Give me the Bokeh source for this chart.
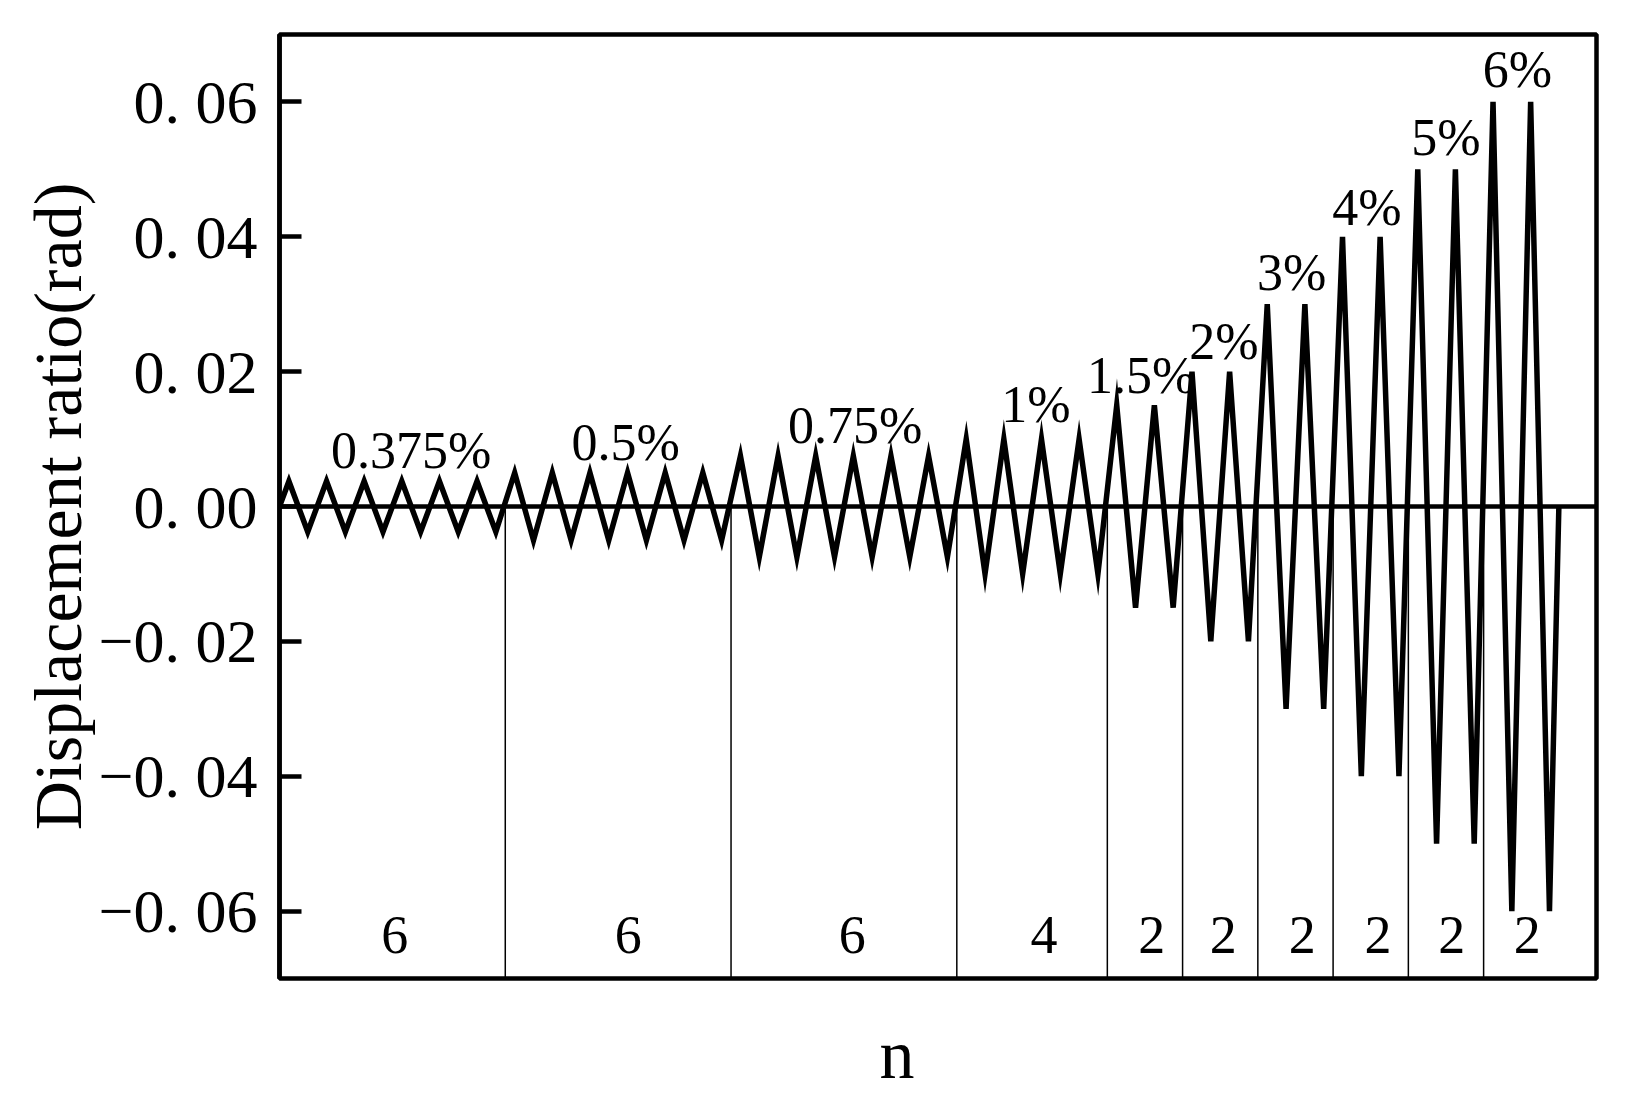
from bokeh.plotting import figure
from bokeh.models import Range1d, FixedTicker, Title
from bokeh.embed import file_html
from bokeh.resources import INLINE
from bokeh.core.properties import value

# ---- data ----
levels = ["0.375%", "0.5%", "0.75%", "1%", "1.5%", "2%", "3%", "4%", "5%", "6%"]
amplitudes = [0.00375, 0.005, 0.0075, 0.01, 0.015, 0.02, 0.03, 0.04, 0.05, 0.06]
cycles = [6, 6, 6, 4, 2, 2, 2, 2, 2, 2]
level_label_x = [3.5, 9.2, 15.3, 20.1, 22.9, 25.1, 26.9, 28.9, 31.0, 32.9]
level_label_y = [0.0083, 0.0095, 0.0120, 0.0152, 0.0195, 0.0244, 0.0347, 0.0444, 0.0547, 0.0648]
count_label_x = [3.06, 9.27, 15.22, 20.32, 23.18, 25.08, 27.18, 29.19, 31.15, 33.16]
count_label_y = -0.0635
yticks = [-0.06, -0.04, -0.02, 0, 0.02, 0.04, 0.06]
ytick_labels = ["−0. 06", "−0. 04", "−0. 02", "0. 00", "0. 02", "0. 04", "0. 06"]
x_label = "n"
y_label = "Displacement ratio(rad)"

# ---- build loading history from the table ----
xs, ys = [0.0], [0.0]
pos = 0
bounds = []
for a, n in zip(amplitudes, cycles):
    for k in range(n):
        xs += [pos + 0.25, pos + 0.75]
        ys += [a, -a]
        pos += 1
    bounds.append(pos)
xs.append(pos)
ys.append(0.0)
separators = bounds[:-1]

p = figure(width=1614, height=1092, output_backend="svg", toolbar_location=None,
           title=None, x_range=Range1d(0, 35), y_range=Range1d(-0.07, 0.07),
           min_border_left=279, min_border_right=18, min_border_top=34, min_border_bottom=114)
p.background_fill_color = "white"
p.border_fill_color = "white"
p.grid.visible = False
p.outline_line_color = "black"
p.outline_line_width = 4.5
p.outline_line_alpha = 1.0

# x axis: no ticks or tick labels; a blank axis label only reserves space above "n"
xa = p.xaxis[0]
xa.ticker = FixedTicker(ticks=[])
xa.axis_line_color = None
xa.major_tick_line_color = None
xa.minor_tick_line_color = None
xa.major_tick_in = 0
xa.major_tick_out = 0
xa.axis_label = " "
xa.axis_label_text_font_size = "28px"
xa.axis_label_standoff = 1

ya = p.yaxis[0]
ya.ticker = FixedTicker(ticks=yticks)
ya.major_label_overrides = {t: l for t, l in zip(yticks, ytick_labels)}
ya.major_tick_in = 22
ya.major_tick_out = 0
ya.major_tick_line_width = 4.5
ya.major_tick_line_color = "black"
ya.minor_tick_line_color = None
ya.axis_line_width = 4.5
ya.axis_line_color = "black"
ya.major_label_text_font = "Liberation Serif"
ya.major_label_text_font_size = "62px"
ya.major_label_text_color = "black"
ya.major_label_standoff = 22
ya.axis_label = y_label
ya.axis_label_text_font = "Liberation Serif"
ya.axis_label_text_font_size = "68px"
ya.axis_label_text_font_style = "normal"
ya.axis_label_text_color = "black"
ya.axis_label_standoff = 0

# zero line
p.line(x=[0, 35], y=[0, 0], line_color="black", line_width=4.5)
# separators between amplitude groups
p.segment(x0=separators, y0=[0] * len(separators), x1=separators, y1=[-0.07] * len(separators),
          line_color="black", line_width=1.5)
# protocol curve
p.line(x=xs, y=ys, line_color="black", line_width=5.5, line_join="miter")

p.text(x=level_label_x, y=level_label_y, text=levels, text_font=value("Liberation Serif"),
       text_font_size="52px", text_align="center", text_baseline="alphabetic", text_color="black")
p.text(x=count_label_x, y=[count_label_y] * len(count_label_x), text=[str(c) for c in cycles],
       text_font=value("Liberation Serif"), text_font_size="54px", text_align="center",
       text_baseline="alphabetic", text_color="black")

p.add_layout(Title(text=x_label, align="left", offset=600, text_font="Liberation Serif",
                   text_font_size="70px", text_font_style="normal", text_color="black",
                   standoff=0), "below")

open("out.html", "w").write(file_html(p, INLINE))
